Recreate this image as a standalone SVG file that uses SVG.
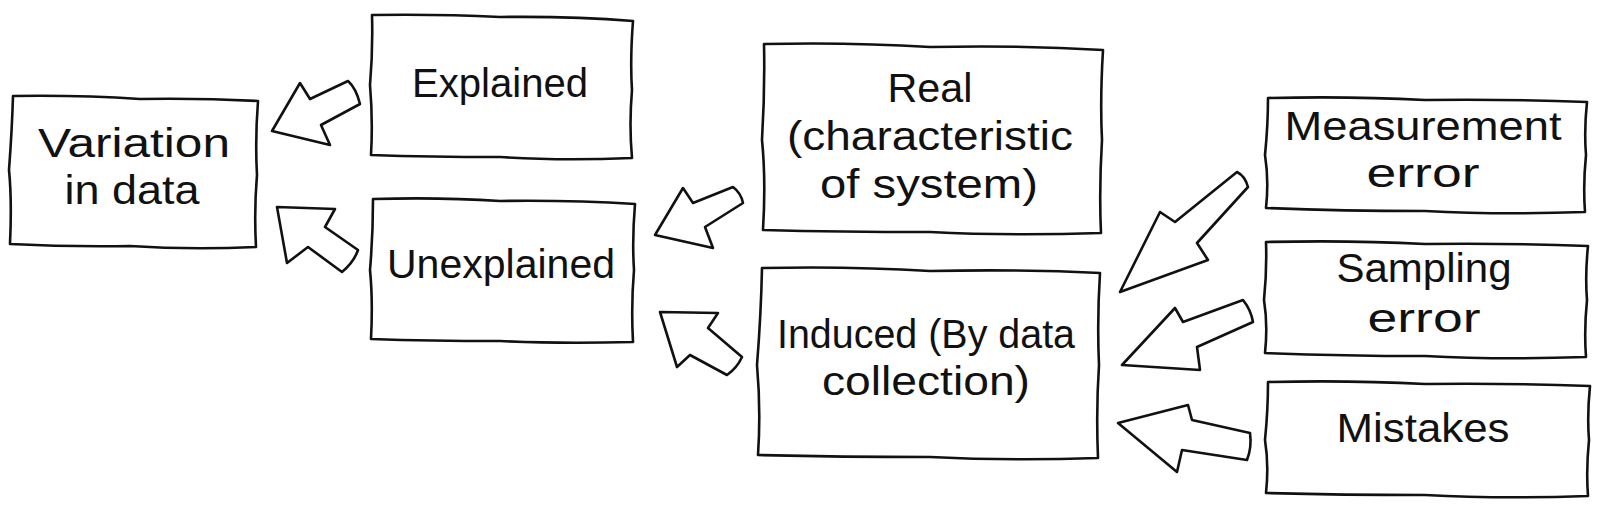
<svg xmlns="http://www.w3.org/2000/svg" width="1600" height="518" viewBox="0 0 1600 518">
<style>
.box{fill:#fff;stroke:#111;stroke-width:2.6;stroke-linejoin:round;stroke-linecap:round}
.arr{fill:#fff;stroke:#111;stroke-width:2.6;stroke-linejoin:round}
text{font-family:"Liberation Sans",Arial,sans-serif;font-size:40px;fill:#111;text-anchor:middle}
</style>
<rect width="1600" height="518" fill="#fff"/>
<g id="connectors">
<path class="arr" d="M272,131 L300,83 L310,99 L348,81 Q356,88 360,104 L321,125 L330,145 Z"/>
<path class="arr" d="M277,207 L335,209 L325,227 L358,250 Q354,262 342,272 L308,247 L287,263 Z"/>
<path class="arr" d="M655,235 L683,188 L693,203 L733,187 Q741,193 743,203 L705,227 L713,248 Z"/>
<path class="arr" d="M660,312 L718,313 L708,328 L742,357 Q737,368 727,375 L690,355 L677,367 Z"/>
<path class="arr" d="M1120,292 L1160,212 L1175,222 L1237,172 Q1245,176 1248,187 L1197,243 L1208,260 Z"/>
<path class="arr" d="M1122,365 L1175,308 L1183,322 L1243,300 Q1251,310 1253,322 L1197,347 L1200,370 Z"/>
<path class="arr" d="M1118,423 L1188,405 L1192,420 L1250,433 Q1252,447 1247,460 L1182,450 L1177,472 Z"/>
</g>
<g id="variation">
<path class="box" d="M13,96 Q80,95 140,99 Q200,98 258,101 Q255,140 257,175 Q254,210 256,247 Q190,250 130,246 Q70,247 10,244 Q12,200 9,170 Q12,130 13,96 Z"/>
<text x="134" y="157" textLength="192" lengthAdjust="spacingAndGlyphs">Variation</text>
<text x="132" y="204" textLength="135" lengthAdjust="spacingAndGlyphs">in data</text>
</g>
<g id="explained">
<path class="box" d="M372,15 Q440,14 500,17 Q570,16 633,21 Q630,60 632,90 Q629,125 632,158 Q560,161 500,157 Q430,157 371,155 Q373,120 370,85 Q373,50 372,15 Z"/>
<text x="500" y="97" textLength="176" lengthAdjust="spacingAndGlyphs">Explained</text>
</g>
<g id="unexplained">
<path class="box" d="M373,199 Q440,197 500,201 Q570,200 635,204 Q632,240 634,270 Q631,305 633,342 Q560,344 500,341 Q430,341 371,339 Q373,300 370,270 Q373,235 373,199 Z"/>
<text x="501" y="278" textLength="228" lengthAdjust="spacingAndGlyphs">Unexplained</text>
</g>
<g id="real">
<path class="box" d="M764,44 Q850,42 930,47 Q1020,45 1103,50 Q1100,100 1102,140 Q1099,190 1101,233 Q1010,236 930,232 Q840,232 763,230 Q766,180 762,140 Q765,90 764,44 Z"/>
<text x="930" y="102" textLength="85" lengthAdjust="spacingAndGlyphs">Real</text>
<text x="930" y="150" textLength="286" lengthAdjust="spacingAndGlyphs">(characteristic</text>
<text x="929" y="198" textLength="218" lengthAdjust="spacingAndGlyphs">of system)</text>
</g>
<g id="induced">
<path class="box" d="M762,268 Q850,266 930,271 Q1020,269 1100,273 Q1097,320 1099,365 Q1096,410 1098,458 Q1010,461 930,457 Q840,457 758,455 Q761,410 757,365 Q761,315 762,268 Z"/>
<text x="926" y="348" textLength="298" lengthAdjust="spacingAndGlyphs">Induced (By data</text>
<text x="926" y="395" textLength="208" lengthAdjust="spacingAndGlyphs">collection)</text>
</g>
<g id="measurement">
<path class="box" d="M1268,98 Q1350,96 1425,100 Q1510,99 1587,102 Q1584,130 1586,155 Q1583,185 1585,212 Q1500,215 1425,211 Q1340,211 1266,208 Q1269,180 1265,155 Q1268,125 1268,98 Z"/>
<text x="1423" y="140" textLength="277" lengthAdjust="spacingAndGlyphs">Measurement</text>
<text x="1423" y="187" textLength="113" lengthAdjust="spacingAndGlyphs">error</text>
</g>
<g id="sampling">
<path class="box" d="M1266,242 Q1350,240 1425,244 Q1510,243 1588,246 Q1585,275 1587,300 Q1584,330 1586,357 Q1500,360 1425,356 Q1340,356 1265,353 Q1268,325 1264,300 Q1267,270 1266,242 Z"/>
<text x="1424" y="282" textLength="175" lengthAdjust="spacingAndGlyphs">Sampling</text>
<text x="1424" y="332" textLength="113" lengthAdjust="spacingAndGlyphs">error</text>
</g>
<g id="mistakes">
<path class="box" d="M1268,382 Q1350,380 1425,384 Q1510,383 1590,386 Q1587,415 1589,440 Q1586,470 1588,496 Q1500,499 1425,495 Q1340,495 1266,493 Q1269,465 1265,440 Q1268,410 1268,382 Z"/>
<text x="1423" y="442" textLength="173" lengthAdjust="spacingAndGlyphs">Mistakes</text>
</g>
</svg>
